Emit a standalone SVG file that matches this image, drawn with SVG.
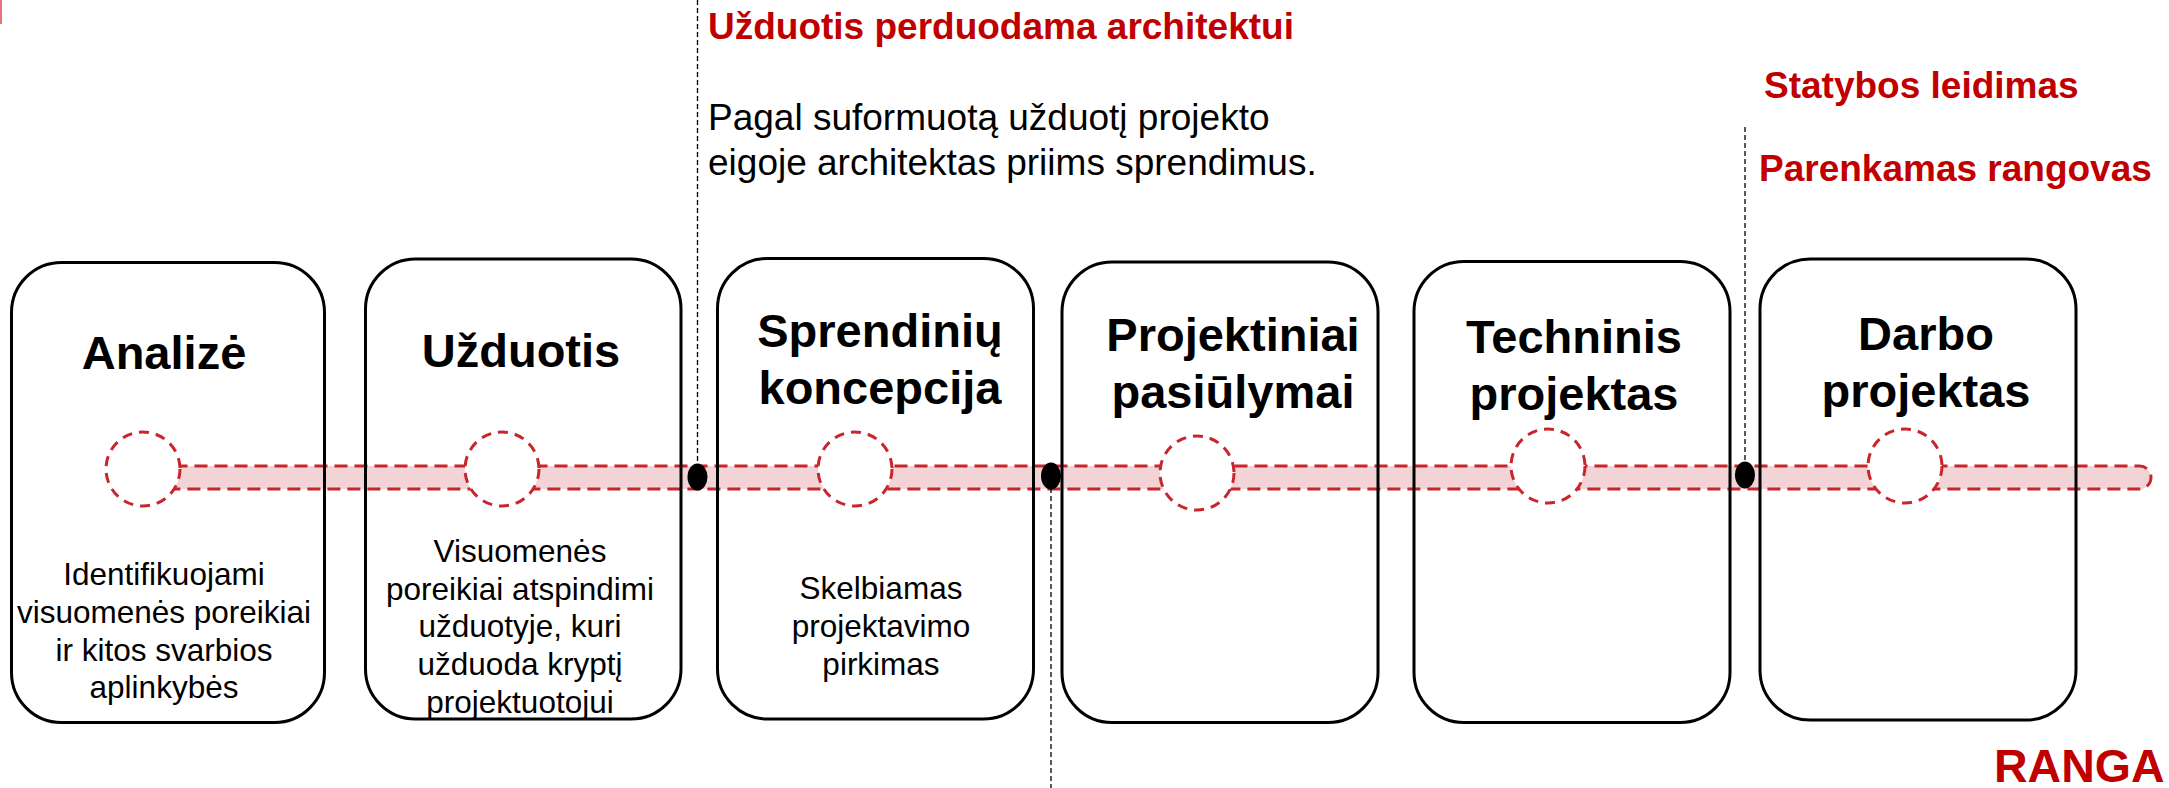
<svg xmlns="http://www.w3.org/2000/svg" width="2169" height="788" viewBox="0 0 2169 788">
<style>
.box{fill:none;stroke:#000;stroke-width:3}
.title{font-family:"Liberation Sans",Arial,sans-serif;font-weight:bold;font-size:47px;fill:#000;text-anchor:middle}
.desc{font-family:"Liberation Sans",Arial,sans-serif;font-size:31.5px;fill:#000;text-anchor:middle}
.red{font-family:"Liberation Sans",Arial,sans-serif;font-weight:bold;font-size:37px;fill:#c00000}
.body{font-family:"Liberation Sans",Arial,sans-serif;font-size:37px;fill:#000}
.vdash{stroke:#000;stroke-width:1.3;stroke-dasharray:5 3;fill:none}
.ring{fill:#fff;stroke:#c9252c;stroke-width:3;stroke-dasharray:10 7}
.dot{fill:#000}
</style>
<rect width="2169" height="788" fill="#fff"/>
<line x1="1" y1="0" x2="1" y2="24" stroke="#e8707a" stroke-width="2"/>
<g id="connectors">
  <rect x="143" y="466" width="2008" height="23" rx="11.5" fill="#f2d3d6" stroke="#c9252c" stroke-width="3" stroke-dasharray="13 7"/>
  <line class="vdash" x1="697.5" y1="0" x2="697.5" y2="470"/>
  <line class="vdash" x1="1051" y1="480" x2="1051" y2="788"/>
  <line class="vdash" x1="1745" y1="127" x2="1745" y2="468"/>
</g>
<g id="node-analize">
  <rect class="box" x="11.5" y="262.5" width="313" height="460" rx="50" ry="50"/>
  <text class="title" x="164" y="369">Analizė</text>
  <text class="desc" x="164" y="585">Identifikuojami</text>
  <text class="desc" x="164" y="623">visuomenės poreikiai</text>
  <text class="desc" x="164" y="661">ir kitos svarbios</text>
  <text class="desc" x="164" y="698">aplinkybės</text>
</g>
<g id="node-uzduotis">
  <rect class="box" x="365.5" y="259" width="315.5" height="460" rx="50" ry="50"/>
  <text class="title" x="521" y="367">Užduotis</text>
  <text class="desc" x="520" y="562">Visuomenės</text>
  <text class="desc" x="520" y="600">poreikiai atspindimi</text>
  <text class="desc" x="520" y="637">užduotyje, kuri</text>
  <text class="desc" x="520" y="675">užduoda kryptį</text>
  <text class="desc" x="520" y="713">projektuotojui</text>
</g>
<g id="node-sprendiniu">
  <rect class="box" x="717.5" y="258.5" width="316" height="460.5" rx="50" ry="50"/>
  <text class="title" x="880" y="347">Sprendinių</text>
  <text class="title" x="880" y="404">koncepcija</text>
  <text class="desc" x="881" y="599">Skelbiamas</text>
  <text class="desc" x="881" y="637">projektavimo</text>
  <text class="desc" x="881" y="675">pirkimas</text>
</g>
<g id="node-projektiniai">
  <rect class="box" x="1062" y="262" width="316" height="460.5" rx="50" ry="50"/>
  <text class="title" x="1233" y="351">Projektiniai</text>
  <text class="title" x="1233" y="408">pasiūlymai</text>
</g>
<g id="node-techninis">
  <rect class="box" x="1414" y="261.5" width="316" height="461" rx="50" ry="50"/>
  <text class="title" x="1574" y="353">Techninis</text>
  <text class="title" x="1574" y="410">projektas</text>
</g>
<g id="node-darbo">
  <rect class="box" x="1760" y="259" width="316" height="461" rx="50" ry="50"/>
  <text class="title" x="1926" y="350">Darbo</text>
  <text class="title" x="1926" y="407">projektas</text>
</g>
<g id="milestones">
  <circle class="ring" cx="143" cy="469" r="37"/>
  <circle class="ring" cx="502" cy="469" r="37"/>
  <circle class="ring" cx="855" cy="469" r="37"/>
  <circle class="ring" cx="1197" cy="473" r="37"/>
  <circle class="ring" cx="1548" cy="466" r="37"/>
  <circle class="ring" cx="1905" cy="466" r="37"/>
  <ellipse class="dot" cx="697.5" cy="477" rx="10" ry="13.5"/>
  <ellipse class="dot" cx="1051" cy="476" rx="10" ry="13.5"/>
  <ellipse class="dot" cx="1745" cy="475" rx="10" ry="13.5"/>
</g>
<g id="annotations">
  <text class="red" x="708" y="39">Užduotis perduodama architektui</text>
  <text class="body" x="708" y="130">Pagal suformuotą užduotį projekto</text>
  <text class="body" x="708" y="175">eigoje architektas priims sprendimus.</text>
  <text class="red" x="1764" y="98">Statybos leidimas</text>
  <text class="red" x="1759" y="181">Parenkamas rangovas</text>
  <text class="red" x="1994" y="782" style="font-size:46.5px">RANGA</text>
</g>
</svg>
